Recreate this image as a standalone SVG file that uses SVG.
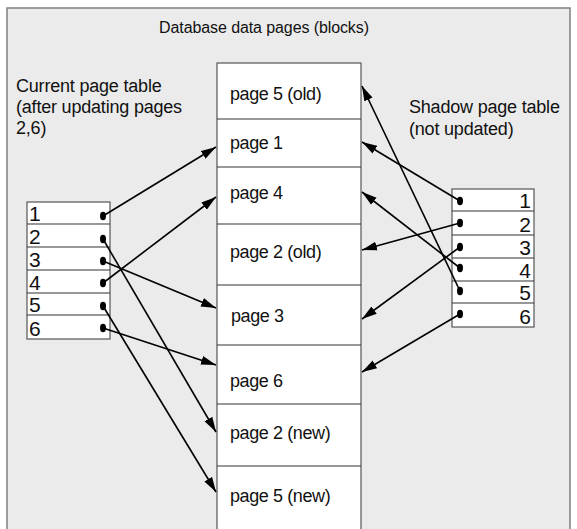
<svg xmlns="http://www.w3.org/2000/svg" width="577" height="529" viewBox="0 0 577 529">
<style>
text{font-family:"Liberation Sans",Arial,sans-serif;fill:#111}
.lbl{font-size:18px;letter-spacing:-0.2px}
.pg{font-size:18px;letter-spacing:-0.4px}
.num{font-size:21px}
.cell{fill:#fff;stroke:#555;stroke-width:1.2}
.sep{stroke:#333;stroke-width:1.2}
.conn line{stroke:#000;stroke-width:1.6;marker-end:url(#ah)}
.dot{fill:#000}
</style>
<defs>
<marker id="ah" markerUnits="userSpaceOnUse" markerWidth="16" markerHeight="10" refX="15" refY="5" orient="auto">
<path d="M0,0.5 L15,5 L0,9.5 Z" fill="#000"/>
</marker>
</defs>
<rect x="7" y="8" width="563" height="530" fill="#ebebeb" stroke="#808080" stroke-width="1.5"/>
<text x="264" y="33" text-anchor="middle" style="font-size:16px;letter-spacing:-0.1px">Database data pages (blocks)</text>
<g id="current-label">
<text class="lbl" x="16" y="92">Current page table</text>
<text class="lbl" x="16" y="113">(after updating pages</text>
<text class="lbl" x="16" y="134">2,6)</text>
</g>
<g id="shadow-label">
<text class="lbl" x="409" y="113">Shadow page table</text>
<text class="lbl" x="409" y="135">(not updated)</text>
</g>
<g id="data-pages">
<rect class="cell" x="217" y="63" width="144" height="470"/>
<line class="sep" x1="217" y1="119" x2="361" y2="119"/>
<line class="sep" x1="217" y1="167" x2="361" y2="167"/>
<line class="sep" x1="217" y1="224" x2="361" y2="224"/>
<line class="sep" x1="217" y1="285" x2="361" y2="285"/>
<line class="sep" x1="217" y1="345" x2="361" y2="345"/>
<line class="sep" x1="217" y1="404" x2="361" y2="404"/>
<line class="sep" x1="217" y1="466" x2="361" y2="466"/>
<text class="pg" x="230" y="100">page 5 (old)</text>
<text class="pg" x="230" y="149">page 1</text>
<text class="pg" x="230" y="199">page 4</text>
<text class="pg" x="230" y="258">page 2 (old)</text>
<text class="pg" x="231" y="322">page 3</text>
<text class="pg" x="230" y="387">page 6</text>
<text class="pg" x="230" y="439">page 2 (new)</text>
<text class="pg" x="230" y="502">page 5 (new)</text>
</g>
<g id="current-table">
<rect class="cell" x="27" y="202" width="83" height="137"/>
<line class="sep" x1="27" y1="224" x2="110" y2="224"/>
<line class="sep" x1="27" y1="247" x2="110" y2="247"/>
<line class="sep" x1="27" y1="270" x2="110" y2="270"/>
<line class="sep" x1="27" y1="293" x2="110" y2="293"/>
<line class="sep" x1="27" y1="315" x2="110" y2="315"/>
<text class="num" x="29" y="221">1</text>
<text class="num" x="29" y="244">2</text>
<text class="num" x="29" y="267">3</text>
<text class="num" x="29" y="290">4</text>
<text class="num" x="29" y="312">5</text>
<text class="num" x="29" y="336">6</text>
<ellipse class="dot" cx="103" cy="216" rx="3" ry="4.2"/>
<ellipse class="dot" cx="103" cy="239" rx="3" ry="4.2"/>
<ellipse class="dot" cx="103" cy="261" rx="3" ry="4.2"/>
<ellipse class="dot" cx="103" cy="283" rx="3" ry="4.2"/>
<ellipse class="dot" cx="103" cy="306" rx="3" ry="4.2"/>
<ellipse class="dot" cx="103" cy="328" rx="3" ry="4.2"/>
</g>
<g id="shadow-table">
<rect class="cell" x="452" y="189" width="82" height="138"/>
<line class="sep" x1="452" y1="211" x2="534" y2="211"/>
<line class="sep" x1="452" y1="235" x2="534" y2="235"/>
<line class="sep" x1="452" y1="258" x2="534" y2="258"/>
<line class="sep" x1="452" y1="281" x2="534" y2="281"/>
<line class="sep" x1="452" y1="303" x2="534" y2="303"/>
<text class="num" x="531" y="208" text-anchor="end">1</text>
<text class="num" x="531" y="232" text-anchor="end">2</text>
<text class="num" x="531" y="255" text-anchor="end">3</text>
<text class="num" x="531" y="278" text-anchor="end">4</text>
<text class="num" x="531" y="300" text-anchor="end">5</text>
<text class="num" x="531" y="324" text-anchor="end">6</text>
<ellipse class="dot" cx="460" cy="201" rx="3" ry="4.2"/>
<ellipse class="dot" cx="460" cy="223" rx="3" ry="4.2"/>
<ellipse class="dot" cx="460" cy="247" rx="3" ry="4.2"/>
<ellipse class="dot" cx="460" cy="268" rx="3" ry="4.2"/>
<ellipse class="dot" cx="460" cy="291" rx="3" ry="4.2"/>
<ellipse class="dot" cx="460" cy="314" rx="3" ry="4.2"/>
</g>
<g id="connectors" class="conn">
<line x1="103" y1="216" x2="216" y2="147"/>
<line x1="103" y1="239" x2="216" y2="432"/>
<line x1="103" y1="261" x2="216" y2="308"/>
<line x1="103" y1="283" x2="216" y2="197"/>
<line x1="103" y1="306" x2="216" y2="492"/>
<line x1="103" y1="328" x2="216" y2="365"/>
<line x1="460" y1="201" x2="362" y2="142"/>
<line x1="460" y1="223" x2="362" y2="250"/>
<line x1="460" y1="247" x2="362" y2="319"/>
<line x1="460" y1="268" x2="362" y2="192"/>
<line x1="460" y1="291" x2="362" y2="86"/>
<line x1="460" y1="314" x2="362" y2="372"/>
</g>
</svg>
